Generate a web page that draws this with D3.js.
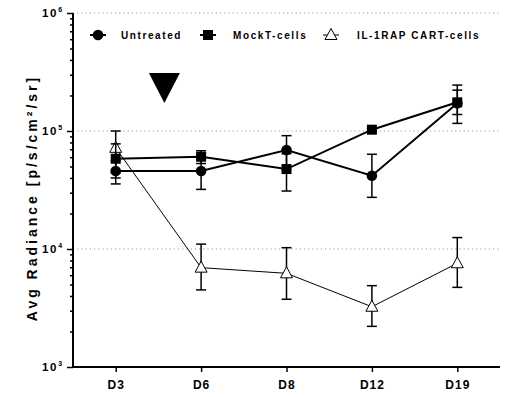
<!DOCTYPE html>
<html lang="en">
<head>
<meta charset="UTF-8">
<script src="https://d3js.org/d3.v7.min.js"></script>
<title>avg radiance</title>
<style>
  body { margin: 0; background: #fff; }
  svg text { font-family: "Liberation Sans", Arial, sans-serif; font-weight: bold; fill: #000; }
</style>
</head>
<body>
<svg id="chart" width="506" height="397"></svg>
<script>
// data
const days = ["D3", "D6", "D8", "D12", "D19"];

const untreatedMean = [45800, 45800, 69000, 41800, 172000];
const untreatedLow  = [35600, 32000, 47000, 27400, 116000];
const untreatedHigh = [56000, 59600, 91300, 63500, 245000];

const mockMean = [58200, 60500, 47600, 102600, 175000];
const mockLow  = [40000, 53000, 31000, 100000, 138000];
const mockHigh = [77800, 68000, 64200, 105000, 222000];

const cartMean = [72000, 6950, 6220, 3240, 7570];
const cartLow  = [44000, 4500, 3750, 2210, 4730];
const cartHigh = [100000, 11000, 10260, 4890, 12500];

const yDecades = [1e3, 1e4, 1e5, 1e6];

const series = [
  {name: "Untreated", mean: untreatedMean, low: untreatedLow, high: untreatedHigh, shape: "circle", width: 2},
  {name: "MockT-cells", mean: mockMean, low: mockLow, high: mockHigh, shape: "square", width: 2},
  {name: "IL-1RAP CART-cells", mean: cartMean, low: cartLow, high: cartHigh, shape: "triangle", width: 1}
];

const svg = d3.select("#chart");
const margin = {left: 73, right: 6, top: 13, bottom: 30};
const W = 506, H = 397;

const x = d3.scalePoint().domain(days).range([margin.left, W - margin.right]).padding(0.5);
const y = d3.scaleLog().domain([1e3, 1e6]).range([H - margin.bottom, margin.top]);

// dotted gridlines
svg.append("g")
  .selectAll("line")
  .data(yDecades.slice(1))
  .join("line")
  .attr("x1", margin.left).attr("x2", W - margin.right)
  .attr("y1", d => y(d)).attr("y2", d => y(d))
  .attr("stroke", "#999")
  .attr("stroke-width", 1.2)
  .attr("stroke-dasharray", "1.2,3");

// y axis with minor ticks
let allTicks = [];
yDecades.forEach((d, i) => {
  if (i < yDecades.length - 1) for (let k = 1; k < 10; k++) allTicks.push(d * k);
  else allTicks.push(d);
});
const yAxis = svg.append("g")
  .attr("transform", `translate(${margin.left},0)`)
  .call(d3.axisLeft(y).tickValues(allTicks).tickSize(3).tickFormat(""));
yAxis.select(".domain").attr("stroke-width", 2).attr("d", `M0,${y(1e6)}V${y(1e3)}`);
yAxis.selectAll(".tick line").attr("stroke-width", 1.5)
  .attr("x2", d => yDecades.includes(d) ? -6 : -3);

const yLab = svg.append("g").selectAll("text")
  .data(yDecades)
  .join("text")
  .attr("x", 64)
  .attr("y", d => y(d) + 4)
  .attr("text-anchor", "end")
  .style("font-size", "11.5px")
  .style("letter-spacing", "1.8px");
yLab.append("tspan").text("10");
yLab.append("tspan").attr("dy", -5).style("font-size", "7px").text(d => Math.round(Math.log10(d)));

// x axis
const xAxis = svg.append("g")
  .attr("transform", `translate(0,${H - margin.bottom})`)
  .call(d3.axisBottom(x).tickSize(5).tickSizeOuter(0).tickPadding(8));
xAxis.select(".domain").attr("stroke-width", 2).attr("d", `M${margin.left},0H${W - margin.right}`);
xAxis.selectAll(".tick line").attr("stroke-width", 1.5);
xAxis.selectAll(".tick text")
  .style("font-family", "'Liberation Sans', Arial, sans-serif")
  .style("font-weight", "bold")
  .style("font-size", "12px")
  .style("letter-spacing", "1px");

// y title
svg.append("text")
  .attr("transform", `translate(37,${(margin.top + H - margin.bottom) / 2 + 8}) rotate(-90)`)
  .attr("text-anchor", "middle")
  .style("font-size", "14px")
  .style("letter-spacing", "3px")
  .text("Avg Radiance [p/s/cm\u00b2/sr]");

// markers
function drawMarker(g, shape, cx, cy) {
  if (shape === "circle")
    g.append("circle").attr("cx", cx).attr("cy", cy).attr("r", 5.3).attr("fill", "#000");
  else if (shape === "square")
    g.append("rect").attr("x", cx - 5).attr("y", cy - 5).attr("width", 10).attr("height", 10).attr("fill", "#000");
  else
    g.append("path")
      .attr("d", `M${cx},${cy - 6.5}L${cx + 6},${cy + 4.5}L${cx - 6},${cy + 4.5}Z`)
      .attr("fill", "#fff").attr("stroke", "#000").attr("stroke-width", 1);
}

// draw series back to front: triangle first
[series[2], series[0], series[1]].forEach(s => {
  const g = svg.append("g");
  // error bars
  days.forEach((d, i) => {
    const cx = x(d);
    g.append("line").attr("x1", cx).attr("x2", cx)
      .attr("y1", y(s.low[i])).attr("y2", y(s.high[i]))
      .attr("stroke", "#000").attr("stroke-width", 1.5);
    [s.low[i], s.high[i]].forEach(v => {
      g.append("line").attr("x1", cx - 5).attr("x2", cx + 5)
        .attr("y1", y(v)).attr("y2", y(v))
        .attr("stroke", "#000").attr("stroke-width", 1.5);
    });
  });
  g.append("path")
    .datum(s.mean)
    .attr("fill", "none")
    .attr("stroke", "#000")
    .attr("stroke-width", s.width)
    .attr("d", d3.line().x((v, i) => x(days[i])).y(v => y(v)));
  s.mean.forEach((v, i) => drawMarker(g, s.shape, x(days[i]), y(v)));
});

// treatment arrow between D3 and D6
const ax = x("D3") + x.step() * 0.57;
svg.append("path")
  .attr("d", `M${ax - 15.5},73L${ax + 15.5},73L${ax},103Z`)
  .attr("fill", "#000");

// legend
const legendY = 35;
const legendItems = [
  {s: series[0], mx: 98, tx: 121},
  {s: series[1], mx: 208, tx: 233},
  {s: series[2], mx: 331, tx: 357}
];
legendItems.forEach(it => {
  const g = svg.append("g");
  g.append("line").attr("x1", it.mx - 8).attr("x2", it.mx + 8)
    .attr("y1", legendY).attr("y2", legendY)
    .attr("stroke", "#000").attr("stroke-width", it.s.width === 2 ? 2 : 1);
  drawMarker(g, it.s.shape, it.mx, legendY);
  g.append("text").attr("x", it.tx).attr("y", legendY + 4)
    .style("font-size", "10px")
    .style("letter-spacing", "1.6px")
    .text(it.s.name);
});
</script>
</body>
</html>
